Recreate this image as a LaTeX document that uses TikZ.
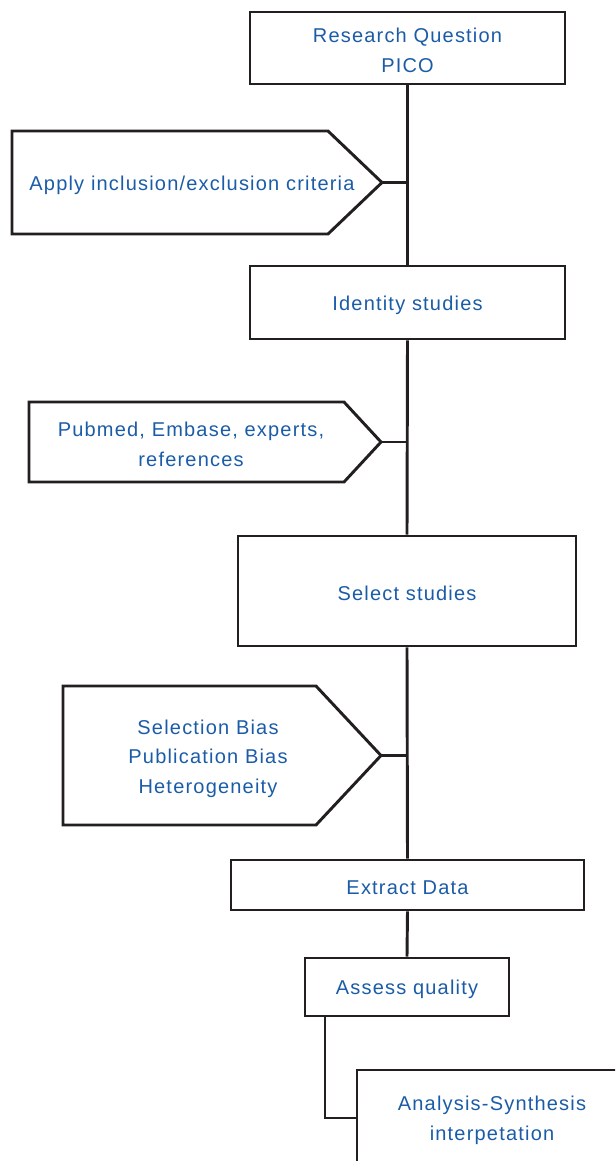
\documentclass[tikz,border=0pt]{standalone}
\usepackage{fontspec}
\setmainfont{Liberation Sans}[LetterSpace=6]
\definecolor{textblue}{HTML}{1B5CA8}
\definecolor{linegray}{HTML}{231F20}
\begin{document}
\begin{tikzpicture}[x=0.75pt,y=-0.75pt,
  lw/.style={line width=2.2pt},
  txt/.style={font=\fontsize{15}{22}\selectfont},
  sz/.style 2 args={minimum width=#1*0.75pt, minimum height=#2*0.75pt},
  lbl/.style={text=textblue, align=center, inner sep=0pt, txt},
  box/.style={draw=linegray, lw, fill=white, inner sep=0pt,
    label={[lbl, yshift=-1.8pt]center:#1}},
  link/.style={draw=linegray, lw},
  tag/.style={draw=linegray, lw, line join=miter}]
\useasboundingbox (0,0) rectangle (615,1161);
\clip (0,0) rectangle (615,1161);

% main steps
\node[box={Research Question\\PICO}, sz={315}{72}]       (b1) at (407.5,48)    {};
\node[box={Identity studies}, sz={315}{73}]             (b2) at (407.5,302.5) {};
\node[box={Select studies}, sz={338}{110}]              (b3) at (407,591)     {};
\node[box={Extract Data}, sz={353}{50}]                 (b4) at (407.5,885)   {};
\node[box={Assess quality}, sz={204}{58}]               (b5) at (407,987)     {};
\node[box={Analysis-Synthesis\\interpetation}, sz={270}{96}] (b6) at (492,1118) {};

% side notes (arrow-shaped tags)
\draw[tag] (12,131) -- (328,131) -- (382,182.5) coordinate (t1) -- (328,234) -- (12,234) -- cycle;
\node[lbl] (p1) at (192,185) {Apply inclusion/exclusion criteria};
\draw[tag] (29,402) -- (344,402) -- (381,442) coordinate (t2) -- (344,482) -- (29,482) -- cycle;
\node[lbl] (p2) at (191,444.5) {Pubmed, Embase, experts,\\references};
\draw[tag] (63,686) -- (316,686) -- (381,755.5) coordinate (t3) -- (316,825) -- (63,825) -- cycle;
\node[lbl] (p3) at (208,758.5) {Selection Bias\\Publication Bias\\Heterogeneity};

% trunk and branches
\draw[link] (b1.south) -- (b2.north);
\draw[link] (b2.south) -- (b3.north);
\draw[link] (b3.south) -- (b4.north);
\draw[link] (b4.south) -- (b5.north);
\draw[link] (t1) -- (t1 -| b1.south);
\draw[link] (t2) -- (t2 -| b2.south);
\draw[link] (t3) -- (t3 -| b3.south);
\coordinate (c5) at (325,1016);
\draw[link] (c5) |- (b6.west);
\end{tikzpicture}
\end{document}
